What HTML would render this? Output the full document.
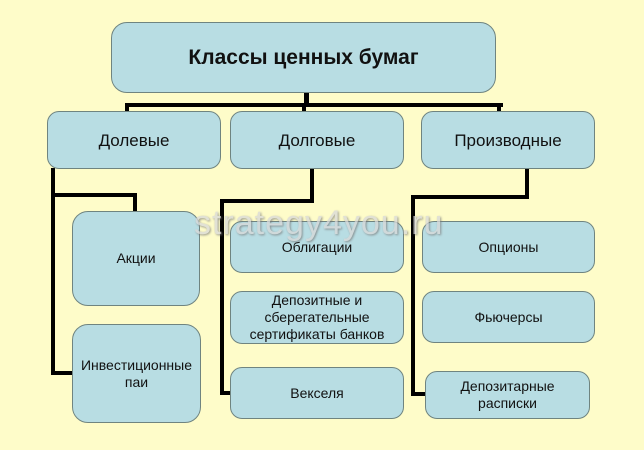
<!DOCTYPE html>
<html><head><meta charset="utf-8"><style>
body{margin:0;width:644px;height:450px;background:#fefcc9;position:relative;overflow:hidden;font-family:"Liberation Sans",sans-serif;}
.b{position:absolute;background:#b8dde3;border:1.5px solid #6f8480;border-radius:12px;box-sizing:border-box;display:flex;align-items:center;justify-content:center;text-align:center;color:#111;font-size:14px;line-height:17px;}
.l{position:absolute;background:#000;}
.wm{position:absolute;left:194px;top:204px;font-size:34px;color:#d8d8d8;opacity:0.75;text-shadow:1px 1px 2px #777;letter-spacing:1px;}
</style></head><body>
<div class="l" style="left:304px;top:93px;width:5px;height:14px"></div>
<div class="l" style="left:125px;top:103px;width:378px;height:4px"></div>
<div class="l" style="left:125px;top:103px;width:4px;height:9px"></div>
<div class="l" style="left:302px;top:103px;width:4px;height:9px"></div>
<div class="l" style="left:497px;top:103px;width:4px;height:9px"></div>

<div class="l" style="left:51px;top:168px;width:4px;height:207px"></div>
<div class="l" style="left:51px;top:193px;width:86px;height:4px"></div>
<div class="l" style="left:133px;top:193px;width:4px;height:20px"></div>
<div class="l" style="left:51px;top:371px;width:22px;height:4px"></div>

<div class="l" style="left:310px;top:168px;width:4px;height:34px"></div>
<div class="l" style="left:220px;top:199px;width:94px;height:4px"></div>
<div class="l" style="left:220px;top:199px;width:4px;height:196px"></div>
<div class="l" style="left:220px;top:391px;width:12px;height:4px"></div>

<div class="l" style="left:525px;top:168px;width:4px;height:30px"></div>
<div class="l" style="left:411px;top:195px;width:118px;height:4px"></div>
<div class="l" style="left:411px;top:195px;width:4px;height:201px"></div>
<div class="l" style="left:411px;top:392px;width:16px;height:4px"></div>

<div class="b" style="left:111px;top:22px;width:385px;height:71px;font-size:21px;font-weight:bold;border-radius:16px">Классы ценных бумаг</div>
<div class="b" style="left:47px;top:111px;width:174px;height:58px;font-size:17px">Долевые</div>
<div class="b" style="left:230px;top:111px;width:174px;height:58px;font-size:17px">Долговые</div>
<div class="b" style="left:421px;top:111px;width:174px;height:58px;font-size:17px">Производные</div>

<div class="b" style="left:72px;top:211px;width:128px;height:95px;border-radius:16px">Акции</div>
<div class="b" style="left:72px;top:324px;width:129px;height:99px;border-radius:16px">Инвестиционные<br>паи</div>
<div class="b" style="left:230px;top:221px;width:174px;height:52px">Облигации</div>
<div class="b" style="left:230px;top:291px;width:174px;height:53px">Депозитные и<br>сберегательные<br>сертификаты банков</div>
<div class="b" style="left:230px;top:367px;width:174px;height:52px">Векселя</div>
<div class="b" style="left:422px;top:221px;width:173px;height:52px">Опционы</div>
<div class="b" style="left:422px;top:291px;width:173px;height:52px">Фьючерсы</div>
<div class="b" style="left:425px;top:371px;width:165px;height:48px">Депозитарные<br>расписки</div>

<div class="wm">strategy4you.ru</div>
</body></html>
